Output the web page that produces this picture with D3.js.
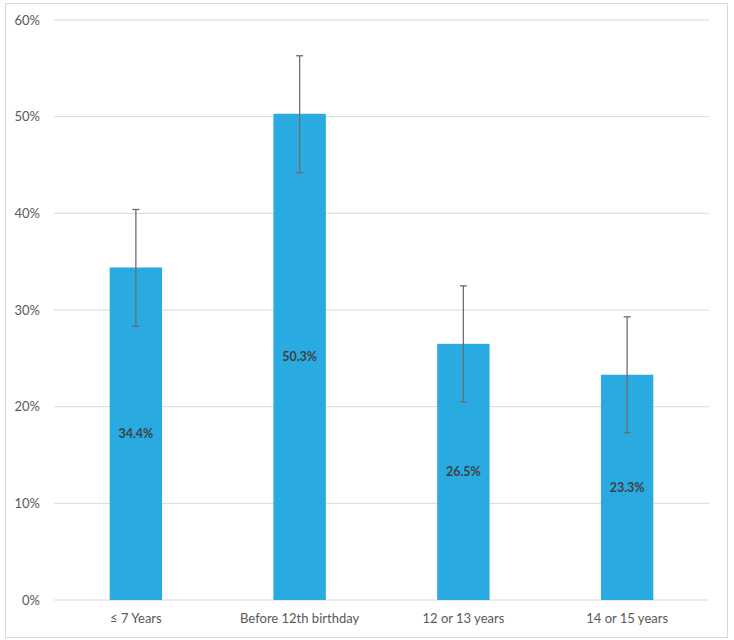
<!DOCTYPE html>
<html>
<head>
<meta charset="utf-8">
<script src="https://cdn.jsdelivr.net/npm/d3@7"></script>
<style>
  body { margin: 0; background: #fff; }
  svg text { font-family: Lato, "Open Sans", sans-serif; }
</style>
</head>
<body>
<div id="chart"></div>
<script>
// data
const categories = ["\u2264 7 Years", "Before 12th birthday", "12 or 13 years", "14 or 15 years"];
const values = [34.4, 50.3, 26.5, 23.3];
const errLow = [28.3, 44.2, 20.5, 17.3];
const errHigh = [40.4, 56.3, 32.5, 29.3];
const yTicks = [0, 10, 20, 30, 40, 50, 60];

const W = 734, H = 640;
const margin = {top: 20, right: 25, bottom: 40, left: 54};
const width = W - margin.left - margin.right;
const height = H - margin.top - margin.bottom;

const svg = d3.select("#chart")
  .append("svg")
    .attr("width", W)
    .attr("height", H);

// outer frame
svg.append("rect")
  .attr("x", 5.5).attr("y", 3.5)
  .attr("width", 722).attr("height", 634)
  .attr("fill", "#fff")
  .attr("stroke", "#d9d9d9");

const g = svg.append("g")
  .attr("transform", "translate(" + margin.left + "," + margin.top + ")");

let x = d3.scaleBand()
  .domain(categories)
  .range([0, width])
  .paddingInner(0.68)
  .paddingOuter(0.34);

let y = d3.scaleLinear()
  .domain([0, 60])
  .range([height, 0]);

// gridlines
g.append("g")
  .selectAll("line")
  .data(yTicks)
  .enter().append("line")
    .attr("x1", 0).attr("x2", width)
    .attr("y1", d => y(d)).attr("y2", d => y(d))
    .attr("stroke", "#d9d9d9")
    .attr("stroke-width", 1);

// y axis labels
const yAxis = g.append("g")
  .call(d3.axisLeft(y).tickValues(yTicks).tickFormat(d => d + "%").tickSize(0).tickPadding(14))
  .attr("font-family", null);
yAxis.select(".domain").remove();
yAxis.selectAll("text")
  .attr("fill", "#595959")
  .style("font-family", "Lato, sans-serif")
  .style("font-size", "13px");

// x axis labels
const xAxis = g.append("g")
  .attr("transform", "translate(0," + height + ")")
  .call(d3.axisBottom(x).tickSize(0).tickPadding(14))
  .attr("font-family", null);
xAxis.select(".domain").remove();
xAxis.selectAll("text")
  .attr("fill", "#595959")
  .style("font-family", "Lato, sans-serif")
  .style("font-size", "13px");

// bars
g.selectAll(".bar")
  .data(values)
  .enter().append("rect")
    .attr("class", "bar")
    .attr("x", (d, i) => x(categories[i]))
    .attr("width", x.bandwidth())
    .attr("y", d => y(d))
    .attr("height", d => height - y(d))
    .attr("fill", "#29abe2");

// error bars
const eb = g.selectAll(".err")
  .data(values)
  .enter().append("g")
    .attr("class", "err")
    .attr("stroke", "#6d6d6d")
    .attr("stroke-width", 1.3);
eb.append("line")
  .attr("x1", (d, i) => x(categories[i]) + x.bandwidth() / 2)
  .attr("x2", (d, i) => x(categories[i]) + x.bandwidth() / 2)
  .attr("y1", (d, i) => y(errLow[i]))
  .attr("y2", (d, i) => y(errHigh[i]));
[errLow, errHigh].forEach(arr => {
  eb.append("line")
    .attr("x1", (d, i) => x(categories[i]) + x.bandwidth() / 2 - 3.5)
    .attr("x2", (d, i) => x(categories[i]) + x.bandwidth() / 2 + 3.5)
    .attr("y1", (d, i) => y(arr[i]))
    .attr("y2", (d, i) => y(arr[i]));
});

// value labels
g.selectAll(".lbl")
  .data(values)
  .enter().append("text")
    .attr("class", "lbl")
    .attr("x", (d, i) => x(categories[i]) + x.bandwidth() / 2)
    .attr("y", d => (y(d) + height) / 2)
    .attr("dy", "0.35em")
    .attr("text-anchor", "middle")
    .attr("fill", "#404040")
    .style("font-family", "Lato, sans-serif")
    .style("font-size", "12.5px")
    .style("font-weight", "bold")
    .text(d => d.toFixed(1) + "%");
</script>
</body>
</html>
